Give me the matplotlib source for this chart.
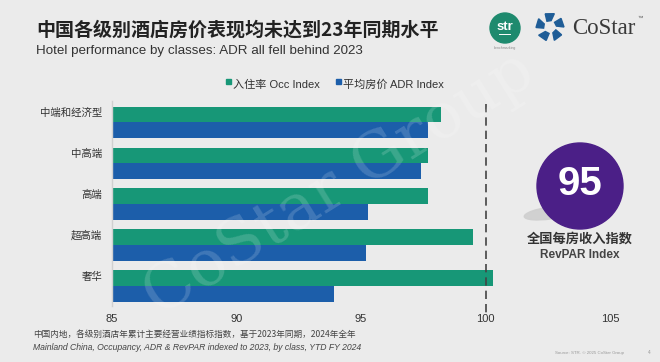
import matplotlib
matplotlib.use("Agg")
import matplotlib.pyplot as plt
import numpy as np
from matplotlib.patches import Circle, Ellipse, Rectangle, Polygon

plt.rcParams['font.family'] = ['Liberation Sans', 'Noto Sans CJK SC', 'DejaVu Sans']

# ---------------- data ----------------
categories = ['中端和经济型', '中高端', '高端', '超高端', '奢华']
occ_index = [98.2, 97.7, 97.7, 99.5, 100.3]
adr_index = [97.7, 97.4, 95.3, 95.2, 93.9]
x_ticks = [85, 90, 95, 100, 105]
revpar_index = 95
series_names = ['入住率 Occ Index', '平均房价 ADR Index']

title = '中国各级别酒店房价表现均未达到23年同期水平'
subtitle = 'Hotel performance by classes: ADR all fell behind 2023'
note1 = '中国内地，各级别酒店年累计主要经营业绩指标指数，基于2023年同期，2024年全年'
note2 = 'Mainland China, Occupancy, ADR & RevPAR indexed to 2023, by class, YTD FY 2024'

BG = '#ebebeb'
GREEN = '#179777'
BLUE = '#1c5eaa'
PURPLE = '#4b1f87'

fig = plt.figure(figsize=(6.6, 3.62), dpi=100, facecolor=BG)

# ---------------- main chart ----------------
ax = fig.add_axes([112/660, 1-306/362, (610-112)/660, (306-101)/362])
ax.set_facecolor(BG)
h = 0.386
y = np.arange(len(categories))
ax.barh(y - h/2, occ_index, height=h, color=GREEN, zorder=2)
ax.barh(y + h/2, adr_index, height=h, color=BLUE, zorder=2)
ax.set_xlim(85, 105)
ax.set_ylim(4.49, -0.526)
ax.set_xticks(x_ticks)
ax.set_xticklabels([str(t) for t in x_ticks], fontsize=8, color='#333333')
ax.set_yticks(y - 0.25)
ax.set_yticklabels(categories, fontsize=7.5, color='#333333',
                   family=['Noto Sans CJK SC', 'DejaVu Sans'])
ax.tick_params(length=0, pad=6)
ax.tick_params(axis='y', pad=7)
for s in ['top', 'right', 'bottom']:
    ax.spines[s].set_visible(False)
ax.spines['left'].set_color('#d0d0d0')
ax.spines['left'].set_linewidth(1.0)
ax.plot([100, 100], [-0.45, 4.7], color='#444444', lw=1.2, ls=(0, (5, 3)),
        clip_on=False, zorder=3)

# ---------------- overlay (pixel coords) ----------------
ov = fig.add_axes([0, 0, 1, 1], zorder=5)
ov.set_xlim(0, 660)
ov.set_ylim(362, 0)
ov.axis('off')
ov.patch.set_alpha(0)

# watermark
ov.text(340, 185, 'CoStar Group', fontsize=46, color='white', alpha=0.16,
        family='DejaVu Serif', rotation=32, ha='center', va='center', zorder=0)

# title
ov.text(36, 30, title, fontsize=13.7, fontweight='bold', color='#222222',
        family=['Noto Sans CJK SC'], va='center', ha='left')
ov.text(36, 51, subtitle, fontsize=9.6, color='#333333', va='center', ha='left')

# legend
for i, (name, col, x0) in enumerate(zip(series_names, [GREEN, BLUE], [226, 336])):
    ov.add_patch(Rectangle((x0, 79), 5, 5, color=col))
    ov.text(x0 + 7, 85, name, fontsize=8, color='#333333', va='center', ha='left')

# str logo
ov.add_patch(Circle((505, 28), 15, color='#1e8a6e'))
ov.text(505, 27, 'str', fontsize=9.5, color='white', fontweight='bold',
        ha='center', va='center')
ov.plot([499, 510], [34, 34], color='white', lw=0.7)
ov.text(505, 48, 'benchmarking', fontsize=2.5, color='#888888', ha='center', va='center')

# CoStar icon (pinwheel)
cx, cy = 550, 27
for k in range(5):
    a = np.deg2rad(90 + 72 * k)
    pts = []
    for r, da in [(14, -18), (14, 20), (6.5, 28), (6.5, -10)]:
        ang = a + np.deg2rad(da)
        pts.append((cx + r*np.cos(ang), cy - r*np.sin(ang)))
    ov.add_patch(Polygon(pts, closed=True, color='#1f5d97'))
ov.text(572, 28, 'CoStar', fontsize=16.5, color='#3a3a3a', family='Liberation Serif',
        ha='left', va='center')
ov.text(638, 18, '™', fontsize=4, color='#555555', ha='left', va='center')

# RevPAR circle
ov.add_patch(Ellipse((550, 213), 52, 12, angle=-8, color='#cfcfcf', alpha=0.9))
ov.add_patch(Circle((580, 186), 43, color=PURPLE, zorder=3))
ov.text(580, 184, str(revpar_index), fontsize=29, fontweight='bold', color='white',
        ha='center', va='center', zorder=4)
ov.text(580, 239, '全国每房收入指数', fontsize=9.5, fontweight='bold', color='#333333',
        family=['Noto Sans CJK SC'], ha='center', va='center')
ov.text(580, 255, 'RevPAR Index', fontsize=8.5, fontweight='bold', color='#444444',
        ha='center', va='center')

# footnotes
ov.text(33, 334, note1, fontsize=6.2, style='italic', color='#444444',
        family=['Noto Sans CJK SC'], ha='left', va='center')
ov.text(33, 347, note2, fontsize=6.2, style='italic', color='#444444',
        ha='left', va='center')
ov.text(555, 353, 'Source: STR. © 2025 CoStar Group', fontsize=3.2, color='#999999',
        ha='left', va='center')
ov.text(648, 353, '4', fontsize=3.5, color='#999999', ha='left', va='center')

fig.savefig('out.png', dpi=100, facecolor=BG)
